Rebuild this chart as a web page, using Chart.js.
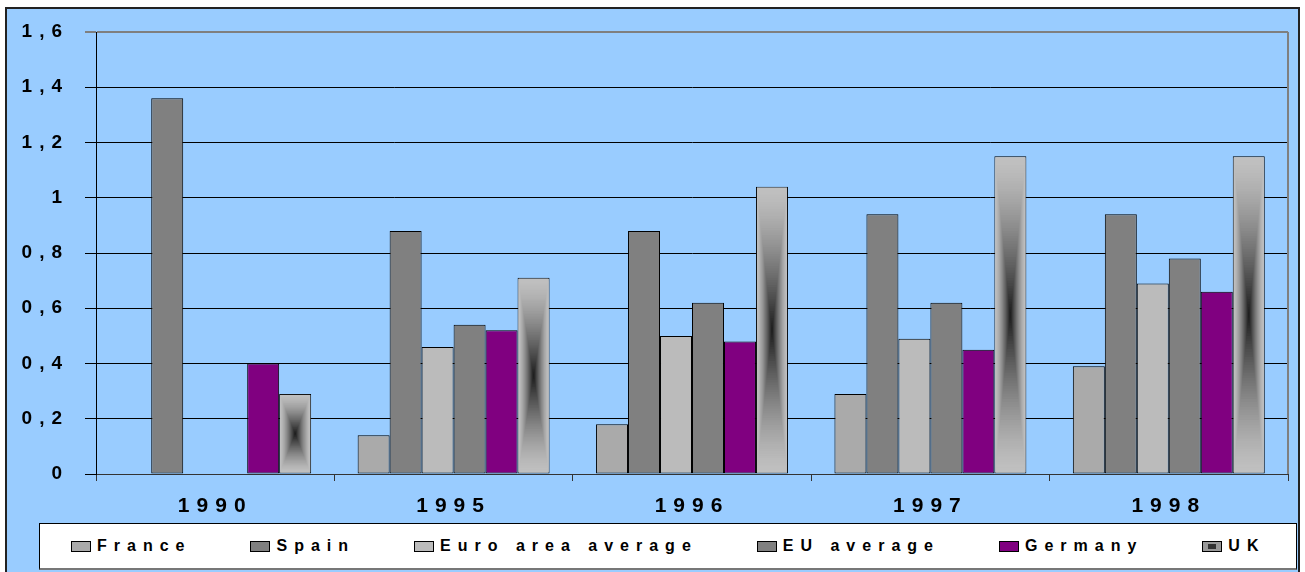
<!DOCTYPE html>
<html>
<head>
<meta charset="utf-8">
<script src="https://cdn.jsdelivr.net/npm/chart.js@4.4.1/dist/chart.umd.min.js"></script>
<style>
  body { margin: 0; background: #fff; font-family: "Liberation Sans", Arial, sans-serif; }
  #frame { position: absolute; left: 5px; top: 7px; width: 1291px; height: 570px; border: 2px solid #222; border-bottom: none; background: #99ccff; }
  #wrap { position: absolute; left: 0; top: 0; width: 1305px; height: 520px; }
  #legend { position: absolute; left: 39px; top: 523px; width: 1258px; height: 47px; box-sizing: border-box;
            background: #fff; border: 1px solid #000; border-bottom: 2px solid #777;
            display: flex; align-items: center; padding-left: 31px; gap: 59px; }
  .item { display: flex; align-items: center; font-weight: bold; font-size: 16px; letter-spacing: 7px; color: #000; }
  .box { width: 18px; height: 9px; border: 1px solid #000; margin-right: 6px; position: relative; }
  .box .inner { position: absolute; left: 5px; top: 2px; width: 8px; height: 5px; background: #333; }
</style>
</head>
<body>
<div id="frame"></div>
<div id="wrap"><canvas id="chart"></canvas></div>
<div id="legend"></div>
<script>
const categories = ['1990', '1995', '1996', '1997', '1998'];
const seriesNames = ['France', 'Spain', 'Euro area average', 'EU average', 'Germany', 'UK'];
const france    = [null, 0.14, 0.18, 0.29, 0.39];
const spain     = [1.36, 0.88, 0.88, 0.94, 0.94];
const euroArea  = [null, 0.46, 0.50, 0.49, 0.69];
const euAverage = [null, 0.54, 0.62, 0.62, 0.78];
const germany   = [0.40, 0.52, 0.48, 0.45, 0.66];
const uk        = [0.29, 0.71, 1.04, 1.15, 1.15];
const yTickLabels = ['0', '0,2', '0,4', '0,6', '0,8', '1', '1,2', '1,4', '1,6'];

const seriesColors = ['#aaaaaa', '#808080', '#bbbbbb', '#808080', '#800080', '#c0c0c0'];
const FONT = '"Liberation Sans", Arial, sans-serif';

// spaced-out lettering like the original
const spacing = {
    id: 'spacing',
    beforeUpdate(chart) { chart.ctx.letterSpacing = '7px'; },
    beforeDraw(chart) { chart.ctx.letterSpacing = '7px'; }
};

// plot border (right side in grey)
const plotBorder = {
    id: 'plotBorder',
    beforeDatasetsDraw(chart) {
        const { ctx, chartArea } = chart;
        ctx.save();
        ctx.strokeStyle = '#7f7f7f';
        ctx.lineWidth = 2;
        ctx.beginPath();
        ctx.moveTo(chartArea.right, chartArea.top);
        ctx.lineTo(chartArea.right, chartArea.bottom);
        ctx.stroke();
        ctx.restore();
    }
};

// "from centre" gradient fill for the UK bars
const ukFill = {
    id: 'ukFill',
    afterDatasetsDraw(chart) {
        const ctx = chart.ctx;
        const meta = chart.getDatasetMeta(5);
        meta.data.forEach(bar => {
            const { x, y, base, width } = bar.getProps(['x', 'y', 'base', 'width'], true);
            if (y == null || isNaN(y)) return;
            const left = x - width / 2 + 1;
            const top = Math.min(y, base) + 1;
            const w = width - 2;
            const h = Math.abs(base - y) - 2;
            const steps = 60;
            ctx.save();
            for (let i = 0; i < steps; i++) {
                const t = i / steps;
                const g = Math.round(192 - 166 * Math.pow(t, 1.4));
                ctx.fillStyle = 'rgb(' + g + ',' + g + ',' + g + ')';
                const dx = t * w / 2, dy = t * h / 2;
                ctx.fillRect(left + dx, top + dy, w - 2 * dx, h - 2 * dy);
            }
            ctx.restore();
        });
    }
};

const seriesData = [france, spain, euroArea, euAverage, germany, uk];

const ctx = document.getElementById('chart').getContext('2d');
new Chart(ctx, {
    type: 'bar',
    data: {
        labels: categories,
        datasets: seriesData.map((d, i) => ({
            label: seriesNames[i],
            data: d,
            backgroundColor: seriesColors[i],
            borderColor: '#000',
            borderWidth: 1,
            borderSkipped: false,
            barPercentage: 1,
            categoryPercentage: 0.805
        }))
    },
    options: {
        responsive: true,
        maintainAspectRatio: false,
        animation: false,
        layout: { padding: { top: 32, right: 17, left: 0, bottom: 0 } },
        plugins: {
            legend: { display: false },
            tooltip: { enabled: false }
        },
        scales: {
            x: {
                ticks: { color: '#000', padding: 13, font: { family: FONT, size: 21, weight: 'bold' } },
                grid: { offset: true, drawOnChartArea: false, drawTicks: true, tickLength: 7, color: '#333' },
                border: { color: '#333', width: 1 },
                afterFit: s => { s.height = 46; }
            },
            y: {
                min: 0,
                max: 1.6,
                ticks: {
                    stepSize: 0.2,
                    color: '#000',
                    padding: 16,
                    font: { family: FONT, size: 19, weight: 'bold' },
                    callback: (v, i) => yTickLabels[i]
                },
                grid: {
                    color: c => c.index === 8 ? '#7f7f7f' : '#000',
                    lineWidth: c => c.index === 8 ? 2 : 1,
                    tickLength: 11
                },
                border: { color: '#000', width: 1 },
                afterFit: s => { s.width = 96; }
            }
        }
    },
    plugins: [spacing, plotBorder, ukFill]
});

// legend
const legend = document.getElementById('legend');
seriesNames.forEach((name, i) => {
    const item = document.createElement('div');
    item.className = 'item';
    const box = document.createElement('span');
    box.className = 'box';
    box.style.background = seriesColors[i];
    if (i === 5) {
        const inner = document.createElement('span');
        inner.className = 'inner';
        box.appendChild(inner);
        box.style.background = '#999';
    }
    item.appendChild(box);
    item.appendChild(document.createTextNode(name));
    legend.appendChild(item);
});
</script>
</body>
</html>
